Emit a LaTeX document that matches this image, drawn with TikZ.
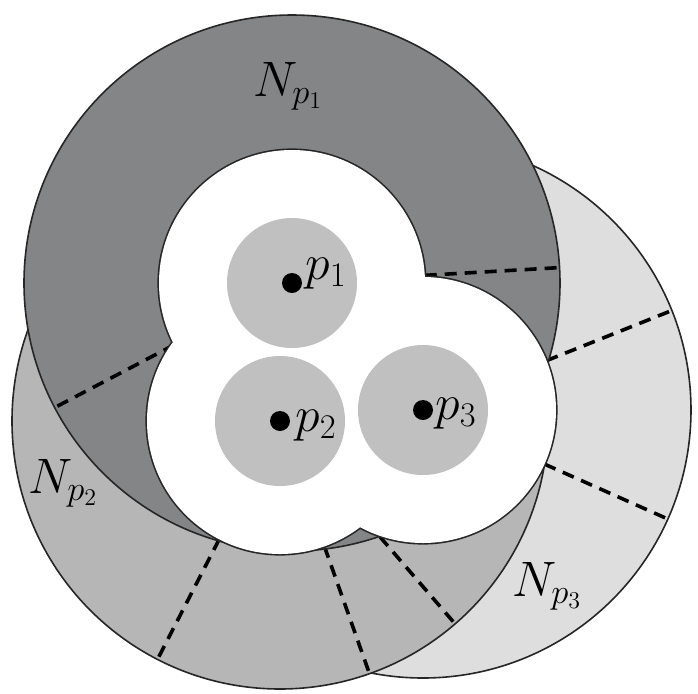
\documentclass[tikz,border=0pt]{standalone}
\usetikzlibrary{calc}
\definecolor{npone}{RGB}{131,133,134}
\definecolor{nptwo}{RGB}{182,182,182}
\definecolor{npthree}{RGB}{222,222,222}
\definecolor{diskc}{RGB}{192,192,192}
\begin{document}
\begin{tikzpicture}[x=0.5pt,y=-0.5pt,
  region/.style={draw=black!85,line width=0.8pt},
  divider/.style={dash pattern=on 6pt off 4pt, line width=1.8pt},
  lbl/.style={font=\fontsize{26}{31}\selectfont, inner sep=0pt, anchor=base west}]
\useasboundingbox (0,0) rectangle (698,693);
\coordinate (p1) at (292,283);
\coordinate (p2) at (280,421);
\coordinate (p3) at (423,410);
\def\rin{66.5pt}
\def\rout{134pt}
% N_p3 (back)
\fill[npthree] (p3) circle (\rout);
\draw[divider] ($(p3)+(-24:\rin)$) -- ($(p3)+(-24:\rout)$);
\draw[divider] ($(p3)+(21.8:\rin)$) -- ($(p3)+(21.8:\rout)$);
\draw[region] (p3) circle (\rout);
% N_p2
\fill[nptwo] (p2) circle (\rout);
\draw[divider] ($(p2)+(-117.2:\rin)$) -- ($(p2)+(-117.2:\rout)$);
\draw[divider] ($(p2)+(-70.5:\rin)$) -- ($(p2)+(-70.5:\rout)$);
\draw[divider] ($(p2)+(-49.2:\rin)$) -- ($(p2)+(-49.2:\rout)$);
\draw[region] (p2) circle (\rout);
% N_p1 (front)
\fill[npone] (p1) circle (\rout);
\draw[divider] ($(p1)+(3.3:\rin)$) -- ($(p1)+(3.3:\rout)$);
\draw[divider] ($(p1)+(207.7:\rin)$) -- ($(p1)+(207.7:\rout)$);
\draw[region] (p1) circle (\rout);
% inner white union with outline
\draw[line width=1.6pt, black!85] (p1) circle (\rin) (p2) circle (\rin) (p3) circle (\rin);
\fill[white] (p1) circle (\rin) (p2) circle (\rin) (p3) circle (\rin);
% small disks and points
\fill[diskc] (p1) circle (32.5pt) (p2) circle (32.5pt) (p3) circle (32.5pt);
\fill[black] (p1) circle (5pt) (p2) circle (5pt) (p3) circle (5pt);
% labels
\node[lbl] (l1) at (305,279) {$p_1$};
\node[lbl] (l2) at (295,431) {$p_2$};
\node[lbl] (l3) at (435,419) {$p_3$};
\node[lbl] (n1) at (253,96) {$N_{p_1}$};
\node[lbl] (n2) at (28,493) {$N_{p_2}$};
\node[lbl] (n3) at (512,596) {$N_{p_3}$};
\end{tikzpicture}
\end{document}
